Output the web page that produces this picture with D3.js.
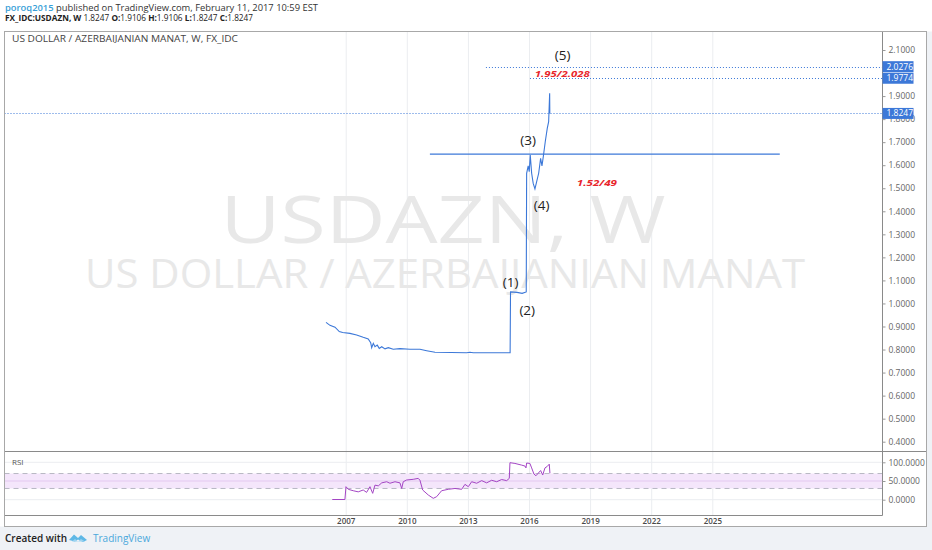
<!DOCTYPE html>
<html>
<head>
<meta charset="utf-8">
<title>USDAZN, W</title>
<script src="https://cdn.jsdelivr.net/npm/d3@7"></script>
<style>
	html, body { margin: 0; padding: 0; background: #ffffff; }
	#chart { width: 932px; height: 550px; }
	text { font-family: "Open Sans", "DejaVu Sans", sans-serif; }
</style>
</head>
<body>
<div id="chart"></div>
<script>
// weekly closes
var priceDates = [
	"2006-01-13", "2006-03-25", "2006-06-23", "2006-09-08", "2006-11-08", "2007-03-18",
	"2007-07-16", "2007-11-11", "2008-02-09", "2008-03-24", "2008-04-11", "2008-05-10",
	"2008-06-09", "2008-07-20", "2008-08-25", "2008-10-08", "2008-12-06", "2009-02-03",
	"2009-05-03", "2009-08-31", "2010-02-27", "2010-08-25", "2010-12-23", "2011-05-21",
	"2012-12-10", "2013-02-07", "2013-04-08", "2015-01-28", "2015-02-04", "2015-06-01",
	"2015-09-01", "2015-11-13", "2015-11-20", "2015-12-18", "2016-01-06", "2016-01-24",
	"2016-02-18", "2016-03-17", "2016-04-17", "2016-05-17", "2016-06-23", "2016-07-28",
	"2016-08-21", "2016-09-14", "2016-10-19", "2016-11-24", "2016-12-19", "2017-01-06",
	"2017-01-09"
];
var priceValues = [
	0.918, 0.905, 0.897, 0.878, 0.874, 0.870,
	0.863, 0.853, 0.846, 0.830, 0.808, 0.827,
	0.812, 0.819, 0.805, 0.812, 0.803, 0.808,
	0.801, 0.804, 0.801, 0.801, 0.795, 0.788,
	0.786, 0.788, 0.786, 0.786, 1.050, 1.048,
	1.044, 1.050, 1.565, 1.597, 1.572, 1.644,
	1.565, 1.521, 1.497, 1.528, 1.565, 1.630,
	1.597, 1.637, 1.702, 1.760, 1.789, 1.912,
	1.8247
];

var rsiDates = [
	"2006-05-05", "2006-12-18", "2007-01-06", "2007-02-16", "2007-05-16", "2007-08-14",
	"2007-11-11", "2008-01-11", "2008-03-11", "2008-04-29", "2008-06-09", "2008-08-08",
	"2008-10-08", "2009-01-05", "2009-03-05", "2009-06-03", "2009-08-31", "2009-10-01",
	"2009-10-29", "2009-12-29", "2010-04-26", "2010-07-25", "2010-08-25", "2010-10-12",
	"2011-01-21", "2011-04-20", "2011-06-20", "2011-09-17", "2012-01-14", "2012-05-14",
	"2012-09-11", "2012-11-09", "2013-01-08", "2013-03-09", "2013-06-07", "2013-09-05",
	"2013-12-03", "2014-03-03", "2014-06-01", "2014-08-29", "2014-11-27", "2015-01-13",
	"2015-01-25", "2015-04-24", "2015-08-22", "2015-10-21", "2015-11-08", "2015-11-20",
	"2016-01-18", "2016-02-18", "2016-03-30", "2016-05-05", "2016-06-16", "2016-07-28",
	"2016-09-03", "2016-10-14", "2016-11-24", "2016-12-30", "2017-01-11"
];
var rsiValues = [
	0.5, 0.5, 34.8, 27.8, 24.0, 21.0,
	26.0, 19.6, 34.8, 17.0, 39.0, 37.0,
	45.0, 48.0, 44.0, 48.0, 45.0, 30.0,
	48.0, 52.7, 54.5, 57.0, 52.0, 26.0,
	12.6, 3.7, 8.0, 24.0, 27.8, 30.0,
	27.8, 41.0, 34.8, 48.0, 44.0, 51.0,
	45.0, 52.0, 48.0, 54.0, 51.0, 57.0,
	99.0, 97.0, 92.5, 90.0, 85.0, 98.0,
	97.0, 85.0, 68.7, 64.0, 71.0, 78.0,
	66.0, 85.0, 89.0, 95.0, 71.0
];

var priceTicks = [0.4, 0.5, 0.6, 0.7, 0.8, 0.9, 1.0, 1.1, 1.2, 1.3, 1.4, 1.5, 1.6, 1.7, 1.8, 1.9, 2.0, 2.1];
var rsiTicks = [0, 50, 100];
var rsiBand = [30, 70];
var yearTicks = [2007, 2010, 2013, 2016, 2019, 2022, 2025];

// price levels marked on the axis
var levelValues = [2.0276, 1.9774, 1.8247];
var levelStarts = ["2013-11-20", "2016-01-19", null];

// horizontal trend line drawn on the chart
var trendValue = 1.648;
var trendDates = ["2011-02-19", "2028-04-25"];

// wave labels and notes
var waveLabels = ["(1)", "(2)", "(3)", "(4)", "(5)"];
var waveDates = ["2015-02-06", "2015-12-01", "2015-12-18", "2016-08-15", "2017-08-26"];
var waveValues = [1.094, 0.972, 1.709, 1.427, 2.078];
var noteLabels = ["1.95/2.028", "1.52/49"];
var noteDates = ["2017-08-22", "2019-05-03"];
var noteValues = [1.999, 1.523];

var headerUser = "poroq2015";
var headerText = " published on TradingView.com, February 11, 2017 10:59 EST";
var symbolText = "FX_IDC:USDAZN, W";
var ohlcLabels = ["", "O:", "H:", "L:", "C:"];
var ohlcValues = ["1.8247", "1.9106", "1.9106", "1.8247", "1.8247"];
var titleText = "US DOLLAR / AZERBAIJANIAN MANAT, W, FX_IDC";
var watermarkMain = "USDAZN, W";
var watermarkSub = "US DOLLAR / AZERBAIJANIAN MANAT";

var parseDate = d3.timeParse("%Y-%m-%d");

function drawChart(){
	const W = 932, H = 550;
	const frame = {left: 4.5, top: 31.5, right: 926.5, bottom: 526.5};
	const plotRight = 882.5;
	const mainBottom = 451.5, rsiBottom = 515.5;
	const lineColor = "#3c78d8";
	const gridColor = "#ebedf0";

	let svg = d3.select("#chart")
		.append("svg")
			.attr("width", W)
			.attr("height", H)
			.attr("viewBox", "0 0 " + W + " " + H);

	// page background, footer strip
	svg.append("rect").attr("x", 0).attr("y", 0).attr("width", W).attr("height", H).attr("fill", "#ffffff");
	svg.append("rect").attr("x", 0).attr("y", frame.bottom).attr("width", W).attr("height", H - frame.bottom).attr("fill", "#eff2f6");
	svg.append("rect").attr("x", frame.right).attr("y", frame.top).attr("width", W - frame.right).attr("height", H - frame.top).attr("fill", "#eff2f6");
	svg.append("rect").attr("x", frame.left).attr("y", frame.top)
		.attr("width", frame.right - frame.left).attr("height", frame.bottom - frame.top)
		.attr("fill", "#ffffff");

	// scales
	var x = d3.scaleTime()
		.domain([new Date(2007, 0, 1), new Date(2025, 0, 1)])
		.range([345.7, 712.3]);
	var y = d3.scaleLinear()
		.domain([0.4, 2.1])
		.range([441.7, 50]);
	var yr = d3.scaleLinear()
		.domain([0, 100])
		.range([499.7, 462.3]);

	let clipMain = svg.append("clipPath").attr("id", "clipMain");
	clipMain.append("rect").attr("x", frame.left).attr("y", frame.top).attr("width", plotRight - frame.left).attr("height", mainBottom - frame.top);
	let clipRsi = svg.append("clipPath").attr("id", "clipRsi");
	clipRsi.append("rect").attr("x", frame.left).attr("y", mainBottom).attr("width", plotRight - frame.left).attr("height", rsiBottom - mainBottom);

	let main = svg.append("g").attr("clip-path", "url(#clipMain)");
	let rsi = svg.append("g").attr("clip-path", "url(#clipRsi)");

	// grid
	main.append("g")
		.call(d3.axisLeft(y).tickValues(priceTicks).tickSize(-(plotRight - frame.left)).tickFormat(""))
		.attr("transform", "translate(" + plotRight + ",0)")
		.call(g => g.select(".domain").remove())
		.selectAll("line").attr("stroke", gridColor);
	let yearDates = yearTicks.map(d => new Date(d, 0, 1));
	[main, rsi].forEach(function(pane){
		pane.append("g")
			.attr("transform", "translate(0," + rsiBottom + ")")
			.call(d3.axisBottom(x).tickValues(yearDates).tickSize(-(rsiBottom - frame.top)).tickFormat(""))
			.call(g => g.select(".domain").remove())
			.selectAll("line").attr("stroke", gridColor);
	});

	// watermark
	main.append("text")
		.attr("x", 443).attr("y", 243)
		.attr("text-anchor", "middle")
		.attr("font-size", "66px")
		.attr("fill", "#e8e8e8")
		.attr("textLength", 445)
		.attr("lengthAdjust", "spacingAndGlyphs")
		.text(watermarkMain);
	main.append("text")
		.attr("x", 445).attr("y", 288)
		.attr("text-anchor", "middle")
		.attr("font-size", "41px")
		.attr("fill", "#e8e8e8")
		.attr("textLength", 720)
		.attr("lengthAdjust", "spacingAndGlyphs")
		.text(watermarkSub);

	// level lines (dotted)
	levelValues.forEach(function(v, i){
		var x0 = levelStarts[i] ? x(parseDate(levelStarts[i])) : frame.left;
		main.append("line")
			.attr("x1", x0).attr("x2", plotRight)
			.attr("y1", Math.round(y(v)) + 0.5).attr("y2", Math.round(y(v)) + 0.5)
			.attr("stroke", lineColor)
			.attr("stroke-width", 1)
			.attr("stroke-dasharray", "1,2");
	});

	// trend line
	main.append("line")
		.attr("x1", x(parseDate(trendDates[0]))).attr("x2", x(parseDate(trendDates[1])))
		.attr("y1", y(trendValue)).attr("y2", y(trendValue))
		.attr("stroke", lineColor)
		.attr("stroke-width", 1.4);

	// price line
	var priceData = priceDates.map((d, i) => ({date: parseDate(d), value: priceValues[i]}));
	main.append("path")
		.datum(priceData)
		.attr("fill", "none")
		.attr("stroke", lineColor)
		.attr("stroke-width", 1.1)
		.attr("d", d3.line().x(d => x(d.date)).y(d => y(d.value)));

	// wave labels
	waveLabels.forEach(function(t, i){
		main.append("text")
			.attr("x", x(parseDate(waveDates[i])))
			.attr("y", y(waveValues[i]))
			.attr("dy", "0.35em")
			.attr("text-anchor", "middle")
			.attr("font-family", "Liberation Sans, Arial, sans-serif")
			.attr("font-size", "13.5px")
			.attr("fill", "#222")
			.text(t);
	});
	var noteWidths = [55, 40];
	noteLabels.forEach(function(t, i){
		main.append("text")
			.attr("x", x(parseDate(noteDates[i])))
			.attr("y", y(noteValues[i]))
			.attr("dy", "0.35em")
			.attr("text-anchor", "middle")
			.attr("font-family", "DejaVu Sans, sans-serif")
			.attr("font-size", "9.5px")
			.attr("font-weight", "bold")
			.attr("font-style", "italic")
			.attr("fill", "#e8262c")
			.attr("textLength", noteWidths[i])
			.attr("lengthAdjust", "spacingAndGlyphs")
			.text(t);
	});

	// rsi pane
	rsi.append("rect")
		.attr("x", frame.left).attr("width", plotRight - frame.left)
		.attr("y", yr(rsiBand[1])).attr("height", yr(rsiBand[0]) - yr(rsiBand[1]))
		.attr("fill", "#f4e6fb");
	rsiTicks.forEach(function(v){
		rsi.append("line")
			.attr("x1", frame.left).attr("x2", plotRight)
			.attr("y1", yr(v)).attr("y2", yr(v))
			.attr("stroke", v == 50 ? "#e3c8f0" : gridColor);
	});
	rsiBand.forEach(function(v){
		rsi.append("line")
			.attr("x1", frame.left).attr("x2", plotRight)
			.attr("y1", yr(v)).attr("y2", yr(v))
			.attr("stroke", "#b8b8c4")
			.attr("stroke-dasharray", "5,4");
	});
	var rsiData = rsiDates.map((d, i) => ({date: parseDate(d), value: rsiValues[i]}));
	rsi.append("path")
		.datum(rsiData)
		.attr("fill", "none")
		.attr("stroke", "#a345c4")
		.attr("stroke-width", 1)
		.attr("d", d3.line().x(d => x(d.date)).y(d => yr(d.value)));
	svg.append("text")
		.attr("x", 12).attr("y", 465)
		.attr("font-size", "8px")
		.attr("fill", "#555")
		.text("RSI");

	// frame lines
	var frameLines = [
		[plotRight, frame.top, plotRight, rsiBottom],
		[frame.left, mainBottom, frame.right, mainBottom],
		[frame.left, rsiBottom, plotRight, rsiBottom]
	];
	frameLines.forEach(function(l){
		svg.append("line")
			.attr("x1", l[0]).attr("y1", l[1]).attr("x2", l[2]).attr("y2", l[3])
			.attr("stroke", "#8a8a8a");
	});
	svg.append("rect").attr("x", frame.left).attr("y", frame.top)
		.attr("width", frame.right - frame.left).attr("height", frame.bottom - frame.top)
		.attr("fill", "none").attr("stroke", "#a8a8a8");

	// price axis, labels hidden where a level badge covers them
	var shownTicks = priceTicks.filter(t => levelValues.every(v => Math.abs(y(t) - y(v)) > 5.5 || t == 1.8));
	let yaxis = svg.append("g")
		.attr("transform", "translate(" + plotRight + ",0)")
		.call(d3.axisRight(y).tickValues(shownTicks).tickSize(3).tickPadding(3).tickFormat(d3.format(".4f")));
	yaxis.select(".domain").remove();
	yaxis.selectAll("line").attr("stroke", "#999");
	yaxis.selectAll("text").attr("font-size", "8.5px").attr("fill", "#666").attr("font-family", "Open Sans, sans-serif");

	let raxis = svg.append("g")
		.attr("transform", "translate(" + plotRight + ",0)")
		.call(d3.axisRight(yr).tickValues(rsiTicks).tickSize(3).tickPadding(3).tickFormat(d3.format(".4f")));
	raxis.select(".domain").remove();
	raxis.selectAll("line").attr("stroke", "#999");
	raxis.selectAll("text").attr("font-size", "8.5px").attr("fill", "#666").attr("font-family", "Open Sans, sans-serif");

	// level badges on the axis
	levelValues.forEach(function(v){
		var cy = y(v);
		svg.append("rect")
			.attr("x", plotRight).attr("y", cy - 5.5)
			.attr("width", 31).attr("height", 11)
			.attr("fill", lineColor);
		svg.append("text")
			.attr("x", plotRight + 4).attr("y", cy)
			.attr("dy", "0.35em")
			.attr("font-size", "8.5px")
			.attr("fill", "#ffffff")
			.text(d3.format(".4f")(v));
	});

	// time axis
	let xaxis = svg.append("g")
		.attr("transform", "translate(0," + rsiBottom + ")")
		.call(d3.axisBottom(x).tickValues(yearDates).tickSize(0).tickPadding(3).tickFormat(d3.timeFormat("%Y")));
	xaxis.select(".domain").remove();
	xaxis.selectAll("text").attr("font-size", "8px").attr("font-weight", "600").attr("fill", "#4a4a4a");

	// header
	let h1 = svg.append("text").attr("x", 5).attr("y", 10.5).attr("font-size", "9px")
		.attr("textLength", 313).attr("lengthAdjust", "spacingAndGlyphs");
	h1.append("tspan").attr("fill", "#3a9fd8").attr("font-weight", "600").text(headerUser);
	h1.append("tspan").attr("fill", "#333").text(headerText);

	let h2 = svg.append("text").attr("x", 5).attr("y", 21).attr("font-size", "9px").attr("fill", "#222")
		.attr("textLength", 248).attr("lengthAdjust", "spacingAndGlyphs");
	h2.append("tspan").attr("font-weight", "bold").text(symbolText);
	ohlcLabels.forEach(function(l, i){
		h2.append("tspan").attr("font-weight", "bold").text(" " + l);
		h2.append("tspan").text(ohlcValues[i]);
	});

	svg.append("text")
		.attr("x", 12).attr("y", 41.5)
		.attr("font-size", "8.5px")
		.attr("fill", "#444")
		.attr("textLength", 226)
		.attr("lengthAdjust", "spacingAndGlyphs")
		.text(titleText);

	// footer
	svg.append("text")
		.attr("x", 5).attr("y", 542)
		.attr("font-size", "10px")
		.attr("font-weight", "600")
		.attr("fill", "#222")
		.text("Created with");
	let logo = svg.append("g").attr("transform", "translate(69,533)");
	logo.append("path")
		.attr("d", "M0,7 L5,1.5 L9,5 L12,2 L18,7 L14,9 L9,6.5 L6,8.5 Z")
		.attr("fill", "#5eb8e6");
	logo.append("path")
		.attr("d", "M3,8.5 L6,6 L9,8.5 L12,6 L16,8.5 Z")
		.attr("fill", "#9dd3f0");
	svg.append("text")
		.attr("x", 93).attr("y", 542)
		.attr("font-size", "10px")
		.attr("fill", "#4aa8dc")
		.text("TradingView");
}

drawChart();
</script>
</body>
</html>
